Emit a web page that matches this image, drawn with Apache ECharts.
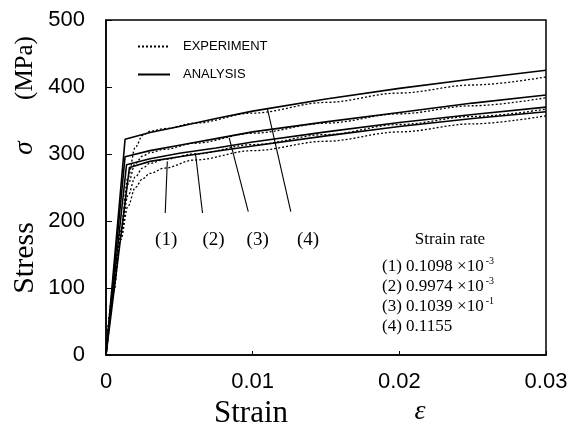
<!DOCTYPE html>
<html>
<head>
<meta charset="utf-8">
<script src="https://cdn.jsdelivr.net/npm/echarts@6/dist/echarts.min.js"></script>
<style>
  html, body { margin: 0; padding: 0; background: #fff; }
  #chart { width: 572px; height: 439px; }
</style>
</head>
<body>
<div id="chart"></div>
<script>
// analysis curves: straight elastic line to a yield point, then hardening
const yieldStrain = [0.0016, 0.0014, 0.0013, 0.0013];
const yieldStress = [280, 284, 296, 322];
const plateauStrain = [0.003, 0.005, 0.0075, 0.01, 0.015, 0.02, 0.025, 0.03];
const analysis1 = [289, 296, 304, 312, 327, 341, 353, 363];
const analysis2 = [293, 301, 309, 318, 333, 347, 359, 370];
const analysis3 = [305, 313, 323, 333, 348, 362, 376, 388];
const analysis4 = [332, 341, 353, 364, 382, 398, 412, 425];

// experimental curves (dotted)
const expStrain = [0, 0.0005, 0.001, 0.0015, 0.002, 0.0025, 0.003, 0.004, 0.006, 0.01, 0.015, 0.02, 0.025, 0.03];
const exp1 = [0, 95, 172, 222, 250, 263, 271, 279, 291, 305, 319, 333, 345, 357];
const exp2 = [0, 95, 178, 238, 266, 279, 286, 292, 300, 314, 329, 344, 356, 367];
const exp3 = [0, 95, 182, 255, 286, 297, 302, 307, 316, 331, 346, 360, 372, 384];
const exp4 = [0, 95, 186, 265, 310, 328, 334, 338, 346, 361, 377, 391, 403, 415];

// leader lines from labels (1)-(4) to their curves: [strain, stress] pairs
const leaders = [
  [[0.00404, 212], [0.00418, 289]],
  [[0.00658, 212], [0.0061, 301]],
  [[0.0097, 214], [0.0084, 324]],
  [[0.0126, 214], [0.011, 368]]
];
const curveLabels = ['(1)', '(2)', '(3)', '(4)'];
const curveLabelAt = [[0.0041, 172], [0.00733, 172], [0.01034, 172], [0.01377, 172]];
const rateLabels = ['(1) 0.1098 ×10', '(2) 0.9974 ×10', '(3) 0.1039 ×10', '(4) 0.1155'];
const rateExponents = ['-3', '-3', '-1', ''];
const xTickLabels = ['0', '0.01', '0.02', '0.03'];

const zip = (xs, ys) => xs.map((x, i) => [x, ys[i]]);
const analysisCurve = (i, ys) => [[0, 0], [yieldStrain[i], yieldStress[i]]].concat(zip(plateauStrain, ys));

const chart = echarts.init(document.getElementById('chart'));

const serif = 'Liberation Serif';
const sans = 'Liberation Sans';

function expSeries(data) {
  return {
    name: 'EXPERIMENT',
    type: 'line',
    data: data,
    symbol: 'none',
    smooth: 0.35,
    smoothMonotone: 'x',
    itemStyle: { color: '#000' },
    lineStyle: { color: '#000', width: 1.3, type: [2, 2] },
    z: 2
  };
}
function anaSeries(data) {
  return {
    name: 'ANALYSIS',
    type: 'line',
    data: data,
    symbol: 'none',
    itemStyle: { color: '#000' },
    lineStyle: { color: '#000', width: 1.6 },
    z: 3
  };
}

const series = [
  expSeries(zip(expStrain, exp1)),
  expSeries(zip(expStrain, exp2)),
  expSeries(zip(expStrain, exp3)),
  expSeries(zip(expStrain, exp4)),
  anaSeries(analysisCurve(0, analysis1)),
  anaSeries(analysisCurve(1, analysis2)),
  anaSeries(analysisCurve(2, analysis3)),
  anaSeries(analysisCurve(3, analysis4))
];

leaders.forEach((seg) => {
  series.push({
    type: 'line',
    data: seg,
    symbol: 'none',
    silent: true,
    lineStyle: { color: '#000', width: 1.1 },
    z: 1
  });
});

const rateRich = { sup: { fontSize: 10, verticalAlign: 'top', padding: [0, 0, 12, 2], fontFamily: serif, color: '#000' } };

const graphics = [
  { type: 'text', x: 25, y: 258, rotation: Math.PI / 2, style: { text: 'Stress', font: '30px "Liberation Serif"', fill: '#000', align: 'center', verticalAlign: 'middle' } },
  { type: 'text', x: 25, y: 148, rotation: Math.PI / 2, style: { text: 'σ', font: 'italic 27px "Liberation Serif"', fill: '#000', align: 'center', verticalAlign: 'middle' } },
  { type: 'text', x: 25, y: 68, rotation: Math.PI / 2, style: { text: '(MPa)', font: '25px "Liberation Serif"', fill: '#000', align: 'center', verticalAlign: 'middle' } },
  { type: 'text', x: 251, y: 414, style: { text: 'Strain', font: '31px "Liberation Serif"', fill: '#000', align: 'center', verticalAlign: 'middle' } },
  { type: 'text', x: 420, y: 412, style: { text: 'ε', font: 'italic 28px "Liberation Serif"', fill: '#000', align: 'center', verticalAlign: 'middle' } },
  { type: 'text', x: 450, y: 240, style: { text: 'Strain rate', font: '17px "Liberation Serif"', fill: '#000', align: 'center', verticalAlign: 'middle' } }
].concat(rateLabels.map((t, i) => ({
  type: 'text',
  x: 382,
  y: 267 + i * 20,
  style: {
    text: rateExponents[i] ? t + '{sup|' + rateExponents[i] + '}' : t,
    rich: rateRich,
    font: '17px "Liberation Serif"',
    fill: '#000',
    align: 'left',
    verticalAlign: 'middle'
  }
})));

chart.setOption({
  animation: false,
  grid: { left: 106, right: 26, top: 20, bottom: 84, show: true, borderColor: '#000', borderWidth: 1.5 },
  legend: {
    data: ['EXPERIMENT', 'ANALYSIS'],
    left: 132,
    top: 35,
    orient: 'vertical',
    itemWidth: 32,
    itemHeight: 14,
    itemGap: 15,
    itemStyle: { opacity: 0 },
    textStyle: { fontFamily: sans, fontSize: 13, color: '#000', padding: [0, 0, 0, 8] }
  },
  xAxis: {
    type: 'value',
    min: 0,
    max: 0.03,
    interval: 0.01,
    axisLine: { lineStyle: { color: '#000', width: 1.5 } },
    axisTick: { inside: true, length: 4, lineStyle: { color: '#000' } },
    splitLine: { show: false },
    axisLabel: {
      margin: 16,
      color: '#000',
      fontFamily: sans,
      fontSize: 22,
      formatter: (v) => xTickLabels[Math.round(v / 0.01)]
    }
  },
  yAxis: {
    type: 'value',
    min: 0,
    max: 500,
    interval: 100,
    axisLine: { lineStyle: { color: '#000', width: 1.5 } },
    axisTick: { inside: true, length: 6, lineStyle: { color: '#000' } },
    splitLine: { show: false },
    axisLabel: { margin: 21, color: '#000', fontFamily: sans, fontSize: 22 }
  },
  graphic: graphics,
  series: series
});

// curve numbers placed through the axes' own scales
chart.setOption({
  graphic: graphics.concat(curveLabelAt.map((pt, i) => {
    const p = chart.convertToPixel({ gridIndex: 0 }, pt);
    return {
      type: 'text',
      x: p[0],
      y: p[1],
      style: { text: curveLabels[i], font: '19px "Liberation Serif"', fill: '#000', align: 'center', verticalAlign: 'middle' }
    };
  }))
});
</script>
</body>
</html>
